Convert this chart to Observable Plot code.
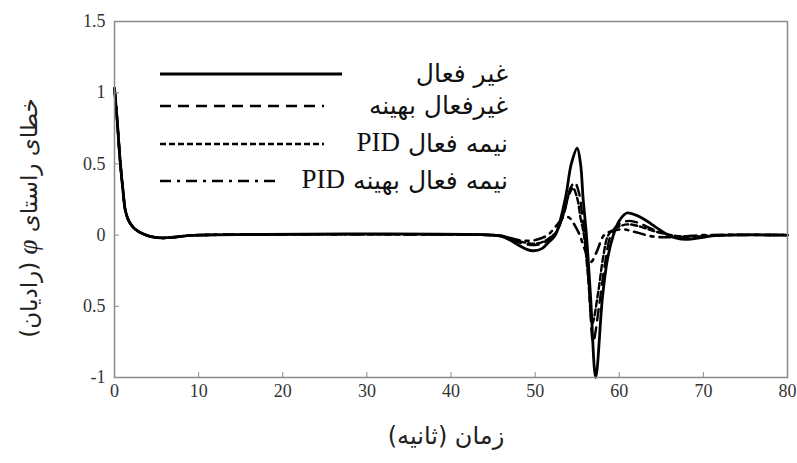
<!DOCTYPE html>
<html>
<head>
<meta charset="utf-8">
<script src="https://cdn.jsdelivr.net/npm/d3@7"></script>
<script src="https://cdn.jsdelivr.net/npm/@observablehq/plot@0.6"></script>
<style>
  body { margin: 0; background: #fff; }
  #wrap { position: relative; width: 797px; height: 463px; }
  #ylab { position: absolute; left: 28px; top: 218px; transform: translate(-50%, -50%) rotate(-90deg);
          white-space: nowrap; font-family: "DejaVu Sans", sans-serif; font-size: 23px; color: #222; direction: rtl; }
  #ylab i { font-family: "Liberation Serif", serif; font-size: 27px; }
  #xlab { position: absolute; left: 446px; top: 436px; transform: translate(-50%, -50%);
          white-space: nowrap; font-family: "DejaVu Sans", sans-serif; font-size: 24px; color: #222; direction: rtl; }
  #legend { position: absolute; left: 0; top: 0; pointer-events: none; }
</style>
</head>
<body>
<div id="wrap">
  <div id="chart"></div>
  <div id="ylab">خطای راستای <i>φ</i> (رادیان)</div>
  <div id="xlab">زمان (ثانیه)</div>
</div>
<script>
// Series names (legend order)
const seriesNames = ["غير فعال", "غيرفعال بهينه", "نيمه فعال PID", "نيمه فعال بهينه PID"];

// Passive (solid)
const tPassive = [0,0.3,0.7,1,1.3,1.7,2.3,3,4.3,5.7,7,8.5,10,45,46,47,48,49,49.8,50.8,51.6,52.4,53.6,54.3,55.0,55.4,55.7,56.1,56.6,57.2,58.0,58.6,59.3,60.0,60.9,62,63,64,65,65.8,66.8,68,69.5,71,73,80];
const yPassive = [1.03,0.82,0.5,0.32,0.17,0.1,0.05,0.02,-0.01,-0.02,-0.015,-0.005,0,0,-0.01,-0.035,-0.07,-0.1,-0.11,-0.095,-0.05,0,0.26,0.5,0.61,0.5,0.26,0,-0.44,-1.0,-0.44,-0.17,0,0.1,0.155,0.14,0.11,0.07,0.03,0,-0.022,-0.03,-0.02,-0.006,0,0];

// Optimal passive (dashed)
const tOptPassive = [0,0.3,0.7,1,1.3,1.7,2.3,3,4.3,5.7,7,8.5,10,45,46,47,48,49,50,51,51.8,52.5,53.5,54.2,54.7,55.2,55.6,55.9,56.4,56.9,57.6,58.3,59.0,59.8,61.2,62.5,64,65.5,66.5,68,70,72,80];
const yOptPassive = [1.03,0.82,0.5,0.32,0.17,0.1,0.05,0.02,-0.01,-0.02,-0.015,-0.005,0,0,-0.005,-0.025,-0.05,-0.065,-0.07,-0.055,-0.02,0.02,0.17,0.33,0.37,0.3,0.14,0,-0.35,-0.75,-0.5,-0.2,0,0.07,0.1,0.08,0.04,0.01,-0.008,-0.015,-0.008,0,0];

// Semi-active PID (short dashed)
const tPID = [0,0.3,0.7,1,1.3,1.7,2.3,3,4.3,5.7,7,8.5,10,45,46,47,48,49,50,51,51.8,52.5,53.4,54.0,54.5,55.0,55.4,55.8,56.3,56.8,57.5,58.1,58.7,59.6,61.0,62.5,64,65.5,67,69,72,80];
const yPID = [1.03,0.82,0.5,0.32,0.17,0.1,0.05,0.02,-0.01,-0.02,-0.015,-0.005,0,0,-0.005,-0.02,-0.04,-0.055,-0.06,-0.045,-0.015,0.02,0.15,0.28,0.33,0.26,0.12,0,-0.3,-0.62,-0.4,-0.15,0,0.05,0.075,0.06,0.03,0.008,-0.008,-0.01,0,0];

// Semi-active optimal PID (dash-dot)
const tOptPID = [0,0.3,0.7,1,1.3,1.7,2.3,3,4.3,5.7,7,8.5,10,45,46,47,48,49,50,50.8,51.5,52.3,53.0,53.5,54.1,54.7,55.3,55.9,56.6,57.3,58.2,59.2,60.5,62,64,66,68,70,80];
const yOptPID = [1.03,0.82,0.5,0.32,0.17,0.1,0.05,0.02,-0.01,-0.02,-0.015,-0.005,0,0,-0.005,-0.02,-0.035,-0.04,-0.035,-0.02,0,0.05,0.1,0.13,0.12,0.07,0,-0.1,-0.19,-0.12,0,0.03,0.04,0.02,-0.01,-0.015,-0.008,0,0];

// Tick values and labels
const xTicks = [0,10,20,30,40,50,60,70,80];
const yTicks = [-1,-0.5,0,0.5,1,1.5];
const yTickLabels = ["-1","0.5","0","0.5","1","1.5"];

const seriesT = [tPassive, tOptPassive, tPID, tOptPID];
const seriesY = [yPassive, yOptPassive, yPID, yOptPID];
const dashes = [null, "11,7", "6,3", "11,6,3,6"];
const widths = [2.8, 2.4, 2.4, 2.6];

const data = seriesNames.map((name, s) => seriesT[s].map((t, i) => ({series: name, t, v: seriesY[s][i]})));

const lineMarks = data.slice().reverse().map((d) => {
  const s = seriesNames.indexOf(d[0].series);
  return Plot.line(d, {x: "t", y: "v", stroke: "#000", strokeWidth: widths[s],
    strokeDasharray: dashes[s] || undefined, curve: "catmull-rom", strokeLinejoin: "round"});
});

const chart = Plot.plot({
  width: 797,
  height: 410,
  marginTop: 21,
  marginBottom: 33,
  marginLeft: 114,
  marginRight: 10,
  style: {fontFamily: "'Liberation Serif', serif", fontSize: "18px", color: "#333", background: "#fff"},
  x: {domain: [0, 80], label: null},
  y: {domain: [-1, 1.5], label: null},
  marks: [
    ...lineMarks,
    Plot.frame({stroke: "#8a8a8a", strokeWidth: 1.5}),
    Plot.axisX({ticks: xTicks, tickSize: -5, tickPadding: 12, stroke: "#8a8a8a", label: null, tickFormat: d => String(d)}),
    Plot.axisY({ticks: yTicks, tickSize: -5, tickPadding: 14, stroke: "#8a8a8a", label: null, tickFormat: (d) => yTickLabels[yTicks.indexOf(d)]})
  ]
});
document.getElementById("chart").appendChild(chart);

// Legend overlay
const legendRows = [
  {y: 74, x2: 342},
  {y: 106, x2: 324},
  {y: 144, x2: 324},
  {y: 181, x2: 277}
];
const ns = "http://www.w3.org/2000/svg";
const lg = document.createElementNS(ns, "svg");
lg.setAttribute("id", "legend");
lg.setAttribute("width", 797);
lg.setAttribute("height", 410);
seriesNames.forEach((name, s) => {
  const r = legendRows[s];
  const ln = document.createElementNS(ns, "line");
  ln.setAttribute("x1", 160); ln.setAttribute("x2", r.x2);
  ln.setAttribute("y1", r.y); ln.setAttribute("y2", r.y);
  ln.setAttribute("stroke", "#000");
  ln.setAttribute("stroke-width", widths[s]);
  if (dashes[s]) ln.setAttribute("stroke-dasharray", dashes[s]);
  lg.appendChild(ln);
  const tx = document.createElementNS(ns, "text");
  tx.setAttribute("x", 508);
  tx.setAttribute("y", r.y + 1);
  tx.setAttribute("text-anchor", "start");
  tx.setAttribute("direction", "rtl");
  tx.setAttribute("dominant-baseline", "middle");
  tx.setAttribute("font-family", "'DejaVu Sans', sans-serif");
  tx.setAttribute("font-size", "25px");
  tx.setAttribute("fill", "#111");
  const parts = name.split("PID");
  if (parts.length > 1) {
    const t1 = document.createElementNS(ns, "tspan");
    t1.textContent = parts[0];
    const t2 = document.createElementNS(ns, "tspan");
    t2.setAttribute("font-family", "'Liberation Serif', serif");
    t2.setAttribute("font-size", "27px");
    t2.textContent = "PID";
    tx.appendChild(t1); tx.appendChild(t2);
  } else {
    tx.textContent = name;
  }
  lg.appendChild(tx);
});
document.getElementById("wrap").appendChild(lg);
</script>
</body>
</html>
